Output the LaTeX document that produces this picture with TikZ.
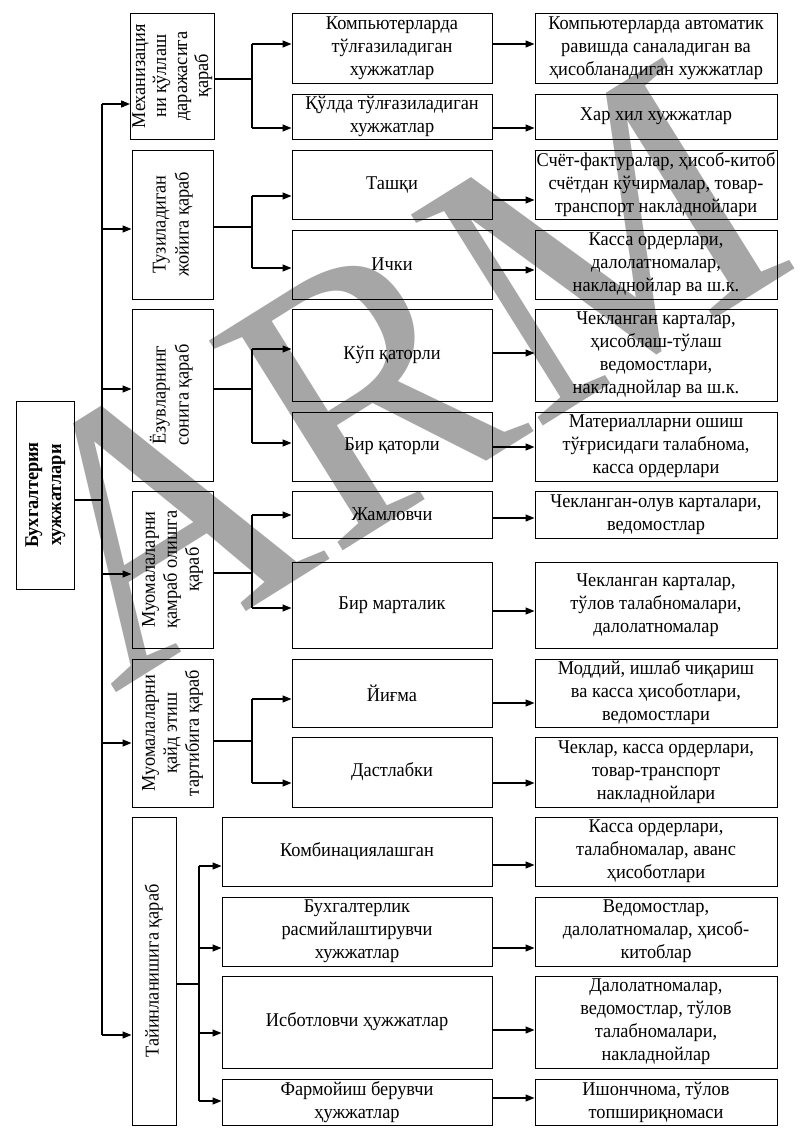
\documentclass[tikz,border=0pt]{standalone}
\usepackage{fontspec}
\setmainfont{Liberation Serif}[FakeStretch=0.94]
\usepackage{graphicx}
\usetikzlibrary{arrows.meta}
\definecolor{wmgray}{RGB}{166,166,166}
\newcommand{\fs}{\fontsize{19.5}{23}\selectfont}
\newcommand{\vtext}[1]{\rotatebox{90}{\begin{tabular}{@{}c@{}}#1\end{tabular}}}
\begin{document}
\begin{tikzpicture}[x=1pt,y=-1pt,
  box/.style={draw, line width=1pt, inner sep=0pt, align=center, font=\fs},
  conn/.style={line width=1.3pt},
  arr/.style={conn, -{Triangle[length=9pt,width=7pt]}},
  lv2/.style={box, minimum width=200pt},
  lv2b/.style={box, minimum width=270pt},
  lv3/.style={box, minimum width=242pt},
  cat/.style={box, minimum width=81pt}
]
\useasboundingbox (0,0) rectangle (810,1136);
% watermark
\node[rotate=32, font=\fontsize{380}{380}\selectfont, text=wmgray, inner sep=0pt] (wm) at (392,372) {ARM};

% root
\node[box, minimum width=58pt, minimum height=188pt, font=\fs\bfseries] (root) at (45,495) {\vtext{Бухгалтерия\\хужжатлари}};

% categories
\node[cat, minimum height=126pt, font=\fontsize{19.5}{21}\selectfont] (c1) at (172.5,76) {\vtext{Механизация\\ни қўллаш\\даражасига\\қараб}};
\node[cat, minimum height=149pt] (c2) at (172.5,224.5) {\vtext{Тузиладиган\\жойига қараб}};
\node[cat, minimum height=172pt] (c3) at (172.5,395) {\vtext{Ёзувларнинг\\сонига қараб}};
\node[cat, minimum height=157pt, font=\fontsize{19.5}{22}\selectfont] (c4) at (172.5,569.5) {\vtext{Муомалаларни\\қамраб олишга\\қараб}};
\node[cat, minimum height=148pt, font=\fontsize{19.5}{22}\selectfont] (c5) at (172.5,733) {\vtext{Муомалаларни\\қайд этиш\\тартибига қараб}};
\node[box, minimum width=44pt, minimum height=308pt] (c6) at (154,971) {\vtext{Тайинланишига қараб}};

% level 2
\node[lv2, minimum height=70pt] (m1) at (392,48) {Компьютерларда\\тўлғазиладиган\\хужжатлар};
\node[lv2, minimum height=45pt] (m2) at (392,116.5) {Қўлда тўлғазиладиган\\хужжатлар};
\node[lv2, minimum height=69pt] (m3) at (392,184.5) {Ташқи};
\node[lv2, minimum height=69pt] (m4) at (392,264.5) {Ички};
\node[lv2, minimum height=92pt] (m5) at (392,355) {Кўп қаторли};
\node[lv2, minimum height=69pt] (m6) at (392,446.5) {Бир қаторли};
\node[lv2, minimum height=47pt] (m7) at (392,514.5) {Жамловчи};
\node[lv2, minimum height=86pt] (m8) at (392,605) {Бир марталик};
\node[lv2, minimum height=68pt] (m9) at (392,693) {Йиғма};
\node[lv2, minimum height=70pt] (m10) at (392,772) {Дастлабки};
\node[lv2b, minimum height=69pt] (m11) at (357,851.5) {Комбинациялашган};
\node[lv2b, minimum height=69pt] (m12) at (357,931.5) {Бухгалтерлик\\расмийлаштирувчи\\хужжатлар};
\node[lv2b, minimum height=92pt] (m13) at (357,1022) {Исботловчи ҳужжатлар};
\node[lv2b, minimum height=46pt] (m14) at (357,1102) {Фармойиш берувчи\\ҳужжатлар};

% level 3
\node[lv3, minimum height=70pt] (r1) at (656,48) {Компьютерларда автоматик\\равишда саналадиган ва\\ҳисобланадиган хужжатлар};
\node[lv3, minimum height=45pt] (r2) at (656,116.5) {Хар хил хужжатлар};
\node[lv3, minimum height=69pt] (r3) at (656,184.5) {Счёт-фактуралар, ҳисоб-китоб\\счётдан кўчирмалар, товар-\\транспорт накладнойлари};
\node[lv3, minimum height=69pt] (r4) at (656,264.5) {Касса ордерлари,\\далолатномалар,\\накладнойлар ва ш.к.};
\node[lv3, minimum height=92pt] (r5) at (656,355) {Чекланган карталар,\\ҳисоблаш-тўлаш\\ведомостлари,\\накладнойлар ва ш.к.};
\node[lv3, minimum height=69pt] (r6) at (656,446.5) {Материалларни ошиш\\тўғрисидаги талабнома,\\касса ордерлари};
\node[lv3, minimum height=47pt] (r7) at (656,514.5) {Чекланган-олув карталари,\\ведомостлар};
\node[lv3, minimum height=86pt] (r8) at (656,605) {Чекланган карталар,\\тўлов талабномалари,\\далолатномалар};
\node[lv3, minimum height=68pt] (r9) at (656,693) {Моддий, ишлаб чиқариш\\ва касса ҳисоботлари,\\ведомостлари};
\node[lv3, minimum height=70pt] (r10) at (656,772) {Чеклар, касса ордерлари,\\товар-транспорт\\накладнойлари};
\node[lv3, minimum height=69pt] (r11) at (656,851.5) {Касса ордерлари,\\талабномалар, аванс\\ҳисоботлари};
\node[lv3, minimum height=69pt] (r12) at (656,931.5) {Ведомостлар,\\далолатномалар, ҳисоб-\\китоблар};
\node[lv3, minimum height=92pt] (r13) at (656,1022) {Далолатномалар,\\ведомостлар, тўлов\\талабномалари,\\накладнойлар};
\node[lv3, minimum height=46pt] (r14) at (656,1102) {Ишончнома, тўлов\\топшириқномаси};

% trunk
\coordinate (tj) at (102,500);
\coordinate (t1) at (102,104);
\coordinate (t2) at (102,229);
\coordinate (t3) at (102,389);
\coordinate (t4) at (102,574);
\coordinate (t5) at (102,743);
\coordinate (t6) at (102,1035);
\draw[conn] (t1) -- (t6);
\draw[conn, line width=1.6pt] (root.east |- tj) -- (tj);
\foreach \i in {1,...,6} \draw[arr] (t\i) -- (t\i -| c\i.west);

% branches from categories
\coordinate (b1) at (252,79);  \coordinate (b1u) at (252,44);  \coordinate (b1d) at (252,128);
\coordinate (b2) at (252,227); \coordinate (b2u) at (252,196); \coordinate (b2d) at (252,268);
\coordinate (b3) at (252,389); \coordinate (b3u) at (252,349); \coordinate (b3d) at (252,443);
\coordinate (b4) at (252,573); \coordinate (b4u) at (252,515); \coordinate (b4d) at (252,608);
\coordinate (b5) at (252,741); \coordinate (b5u) at (252,699); \coordinate (b5d) at (252,783);
\foreach \i/\u/\d in {1/1/2,2/3/4,3/5/6,4/7/8,5/9/10}{
  \draw[conn, line width=1.6pt] (c\i.east |- b\i) -- (b\i);
  \draw[conn] (b\i u) -- (b\i d);
  \draw[arr] (b\i u) -- (b\i u -| m\u.west);
  \draw[arr] (b\i d) -- (b\i d -| m\d.west);
}
\coordinate (b6) at (199,984);
\coordinate (b6a) at (199,866);
\coordinate (b6b) at (199,948);
\coordinate (b6c) at (199,1033);
\coordinate (b6d) at (199,1101);
\draw[conn, line width=1.6pt] (c6.east |- b6) -- (b6);
\draw[conn] (b6a) -- (b6d);
\draw[arr] (b6a) -- (b6a -| m11.west);
\draw[arr] (b6b) -- (b6b -| m12.west);
\draw[arr] (b6c) -- (b6c -| m13.west);
\draw[arr] (b6d) -- (b6d -| m14.west);

% level 2 -> level 3
\foreach \i/\y in {1/44,2/128,3/200,4/270,5/353,6/447,7/518,8/611,9/703,10/783,11/865,12/948,13/1030,14/1098}
  \draw[arr] (m\i.east |- 0,\y) -- (r\i.west |- 0,\y);
\end{tikzpicture}
\end{document}
